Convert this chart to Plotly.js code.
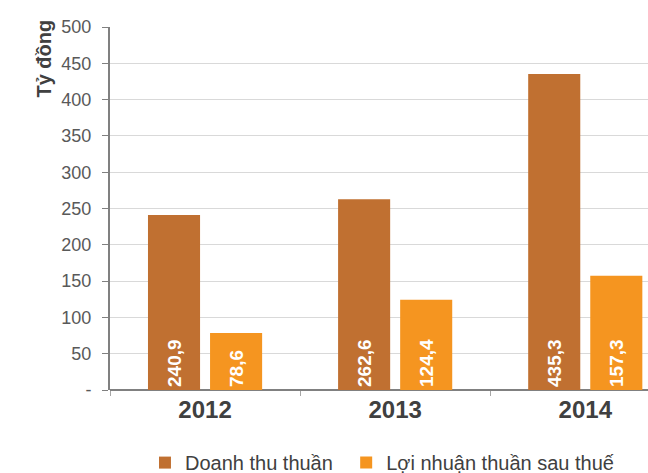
<!DOCTYPE html>
<html>
<head>
<meta charset="utf-8">
<script src="https://cdn.plot.ly/plotly-3.0.1.min.js"></script>
<style>html,body{margin:0;padding:0;background:#fff;}#chart{width:648px;height:473px;}</style>
</head>
<body>
<div id="chart"></div>
<script>
const years = ['2012', '2013', '2014'];
const revenue = [240.9, 262.6, 435.3];
const profit = [78.6, 124.4, 157.3];
const seriesNames = ['Doanh thu thuần', 'Lợi nhuận thuần sau thuế'];
const yTickVals = [0, 50, 100, 150, 200, 250, 300, 350, 400, 450, 500];
const yTickText = ['-', '50', '100', '150', '200', '250', '300', '350', '400', '450', '500'];

const fmt = v => v.toFixed(1).replace('.', ',');
const textFont = {family: 'Liberation Sans, Arial, sans-serif', size: 19, color: '#ffffff', weight: 'bold'};

const traces = [
  {type: 'bar', name: seriesNames[0], x: years, y: revenue, text: revenue.map(fmt),
   marker: {color: '#C07031'}, textposition: 'inside', insidetextanchor: 'start', textangle: -90,
   insidetextfont: textFont, hoverinfo: 'none', cliponaxis: false, legend: 'legend'},
  {type: 'bar', name: seriesNames[1], x: years, y: profit, text: profit.map(fmt),
   marker: {color: '#F59520'}, textposition: 'inside', insidetextanchor: 'start', textangle: -90,
   insidetextfont: textFont, hoverinfo: 'none', cliponaxis: false, legend: 'legend2'}
];

const legendBase = {orientation: 'h', xanchor: 'left', yref: 'container', y: 0.022, yanchor: 'middle',
                    font: {size: 20, color: '#404040'}, itemwidth: 30, bgcolor: 'rgba(0,0,0,0)'};

const layout = {
  width: 648, height: 473,
  margin: {l: 110, r: 0, t: 27, b: 83, autoexpand: false},
  paper_bgcolor: '#ffffff', plot_bgcolor: '#ffffff',
  font: {family: 'Liberation Sans, Arial, sans-serif', color: '#404040'},
  barmode: 'group', bargap: 0.347, bargroupgap: 0.161,
  showlegend: true,
  legend: Object.assign({}, legendBase, {x: 0.065}),
  legend2: Object.assign({}, legendBase, {x: 0.439}),
  xaxis: {type: 'category', range: [-0.5, 2.33], showgrid: false, zeroline: false,
          showline: false, ticks: 'outside', tickson: 'boundaries', ticklen: 5, tickcolor: '#a6a6a6',
          ticklabelstandoff: 3,
          tickfont: {size: 24, color: '#404040', weight: 'bold'}, fixedrange: true},
  yaxis: {range: [0, 500], tickvals: yTickVals, ticktext: yTickText, showgrid: true,
          gridcolor: '#d9d9d9', gridwidth: 1, zeroline: true, zerolinecolor: '#808080', zerolinewidth: 2,
          showline: true, linecolor: '#808080', linewidth: 2, ticks: 'outside', ticklen: 6,
          tickcolor: '#808080', ticklabelstandoff: 7, tickfont: {size: 18, color: '#595959'}, fixedrange: true},
  annotations: [{text: 'Tỷ đồng', xref: 'paper', yref: 'paper', x: -0.1227, y: 0.913,
                 xanchor: 'center', yanchor: 'middle',
                 textangle: -90, showarrow: false, font: {size: 20, color: '#404040', weight: 'bold'}}]
};

Plotly.newPlot('chart', traces, layout, {staticPlot: true, displayModeBar: false});
</script>
</body>
</html>
